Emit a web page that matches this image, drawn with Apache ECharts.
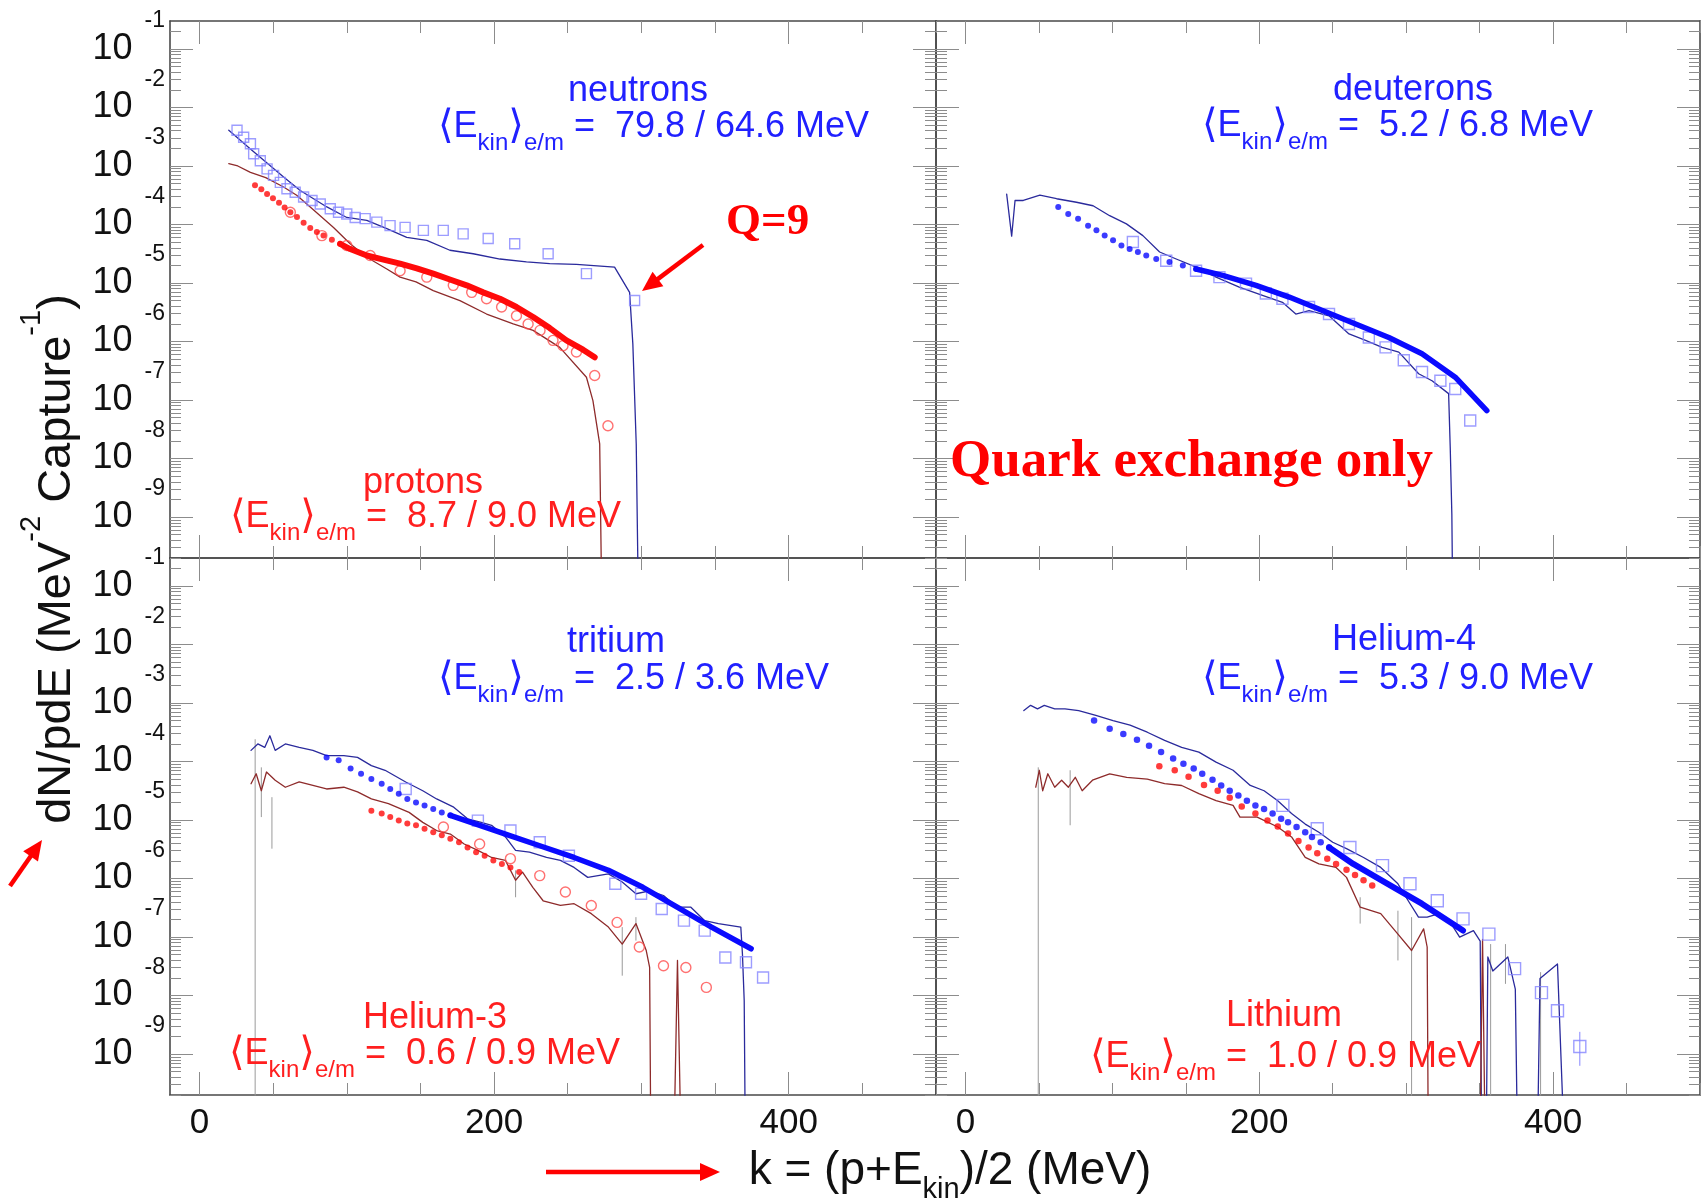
<!DOCTYPE html>
<html><head><meta charset="utf-8">
<script src="https://cdn.jsdelivr.net/npm/echarts@6/dist/echarts.min.js"></script>
<style>html,body{margin:0;padding:0;background:#fff}#c{width:1703px;height:1204px}</style>
</head><body><div id="c"></div>
<script>
// ---------------- DATA ----------------
// x = k (MeV); second number = log10(dN/pdE)
const xRange = [-20, 500];
const yRange = [2e-10, 0.3];
const xTickMajor = [0, 200, 400];
const xTickMinor = [50, 100, 150, 250, 300, 350, 450, 500];
const yExponents = [-1, -2, -3, -4, -5, -6, -7, -8, -9];

// top-left: neutrons (blue) / protons (red)
const neutronExp = [[25.5,-2.39],[30,-2.51],[34.6,-2.62],[36.8,-2.79],[41.3,-2.91],[45.9,-3.05],[50.3,-3.16],[54.9,-3.28],[59.4,-3.39],[65,-3.45],[70.7,-3.53],[76.4,-3.59],[82,-3.65],[88.8,-3.73],[94.4,-3.79],[100,-3.82],[105.7,-3.88],[112.5,-3.90],[120.4,-3.96],[129.4,-4.02],[139.6,-4.05],[152,-4.10],[165.5,-4.10],[179,-4.16],[196,-4.24],[214,-4.33],[236.7,-4.50],[262.7,-4.84],[295.4,-5.30]];
const neutronSim = [[19.9,-2.39],[34.6,-2.71],[57.1,-3.19],[68.4,-3.42],[86.5,-3.70],[100,-3.88],[113.6,-3.93],[127.2,-4.07],[140.7,-4.22],[154.3,-4.27],[170,-4.44],[185.8,-4.50],[204,-4.59],[222,-4.64],[237.8,-4.67],[255.9,-4.68],[281.8,-4.73],[292,-5.16],[294.2,-6.04],[296.5,-7.75],[298.8,-12]];
const protonExp = [[61.7,-3.79],[83.1,-4.19],[100,-4.36],[115.9,-4.53],[136.2,-4.79],[154.3,-4.90],[172.3,-5.04],[184.8,-5.16],[194.9,-5.27],[205.1,-5.41],[215.2,-5.56],[223.1,-5.70],[231.2,-5.81],[240,-5.98],[246.8,-6.07],[255.9,-6.18],[268.3,-6.58],[277.3,-7.44]];
const protonSim = [[19.9,-2.96],[26,-3.0],[34.6,-3.11],[45,-3.2],[57.1,-3.36],[66,-3.5],[75.2,-3.70],[91,-4.05],[102.3,-4.33],[113.6,-4.56],[127.2,-4.76],[136.2,-4.90],[147,-4.98],[158.7,-5.13],[176.8,-5.30],[194.9,-5.53],[213,-5.70],[226.5,-5.81],[244.6,-6.10],[262.7,-6.61],[267.1,-7.01],[271.7,-7.75],[273.9,-12]];
const protonModelDots = [[37.7,-3.33],[42,-3.40],[45.9,-3.48],[49.9,-3.55],[54,-3.63],[57.8,-3.71],[61.7,-3.79],[66.2,-3.87],[70.7,-3.97],[75.2,-4.06],[79.7,-4.13],[84.2,-4.19],[89.9,-4.26],[95.5,-4.33]];
const protonModelCurve = [[95.5,-4.33],[102.3,-4.42],[113.6,-4.53],[124.9,-4.60],[136.2,-4.67],[147.5,-4.75],[158.7,-4.84],[170,-4.94],[181.4,-5.04],[192.6,-5.16],[204,-5.27],[215.2,-5.41],[226.5,-5.58],[237.8,-5.77],[249.1,-5.98],[260.4,-6.14],[268.3,-6.27]];

// top-right: deuterons
const deuteronExp = [[114,-4.30],[136.7,-4.62],[157,-4.79],[172.9,-4.90],[191,-5.01],[204.5,-5.18],[215.8,-5.27],[233.9,-5.41],[247.5,-5.53],[261.1,-5.70],[274.6,-5.93],[286,-6.10],[298.4,-6.32],[310.8,-6.52],[323.3,-6.67],[333.4,-6.81],[343.6,-7.35]];
const deuteronSim = [[28.1,-3.48],[31.5,-4.2],[33.8,-3.59],[39.4,-3.59],[50.7,-3.50],[62.1,-3.56],[75.6,-3.62],[86.9,-3.68],[98.2,-3.85],[109.6,-3.99],[120.8,-4.19],[132.2,-4.47],[143.5,-4.59],[157,-4.73],[170.6,-4.90],[186.4,-5.07],[202.2,-5.21],[215.8,-5.33],[224.9,-5.53],[233.9,-5.47],[247.5,-5.56],[261.1,-5.87],[272.4,-5.98],[283.7,-6.10],[295,-6.18],[308.5,-6.55],[317.6,-6.67],[328.9,-6.89],[330,-7.81],[331.1,-8.95],[332.3,-12]];
const deuteronModelDots = [[63.2,-3.70],[70,-3.82],[76.7,-3.90],[83.5,-4.02],[89.2,-4.10],[94.8,-4.19],[100.5,-4.27],[106.2,-4.36],[111.8,-4.42],[117.4,-4.47],[123.1,-4.53],[129.9,-4.59],[138.9,-4.64],[148,-4.70],[157,-4.76]];
const deuteronModelCurve = [[157,-4.76],[175.1,-4.87],[197.8,-5.04],[220.4,-5.24],[243,-5.47],[265.6,-5.70],[288.2,-5.93],[310.8,-6.21],[333.4,-6.61],[354.9,-7.18]];

// bottom-left: tritium (blue) / helium-3 (red)
const tritonExp = [[140,-4.47],[189,-5.01],[211.1,-5.18],[231,-5.38],[250.8,-5.61],[282.3,-6.09],[299.8,-6.26],[313.8,-6.52],[328.9,-6.72],[343,-6.89],[357,-7.35],[371,-7.43],[382.6,-7.69]];
const tritonSim = [[35,-3.81],[39.6,-3.70],[44.3,-3.76],[47.8,-3.56],[51.4,-3.81],[58.3,-3.70],[67.7,-3.76],[77,-3.81],[86.3,-3.90],[98,-3.90],[107.3,-3.93],[116.7,-4.07],[126,-4.15],[140,-4.35],[151.6,-4.50],[161,-4.64],[172.6,-4.78],[182,-4.98],[191.3,-5.04],[198.3,-5.09],[207.7,-5.29],[214.6,-5.52],[224,-5.55],[235.6,-5.64],[245,-5.69],[254.3,-5.81],[263.6,-5.98],[277.6,-5.92],[287,-6.06],[296.3,-6.26],[305.6,-6.21],[315,-6.29],[324.3,-6.49],[333.6,-6.49],[343,-6.72],[352.3,-6.77],[367.5,-6.83],[368.6,-7.29],[369.8,-8.09],[371,-12]];
const tritonModelDots = [[86.3,-3.93],[94.5,-3.98],[102.6,-4.12],[109.7,-4.21],[116.7,-4.30],[123.7,-4.38],[129.5,-4.47],[135.3,-4.55],[141.1,-4.64],[147,-4.70],[152.8,-4.75],[158.7,-4.81],[164.5,-4.87],[170.3,-4.92]];
const tritonModelCurve = [[170.3,-4.92],[184.3,-5.04],[207.7,-5.24],[231,-5.44],[254.3,-5.64],[277.6,-5.86],[301,-6.15],[324.3,-6.49],[347.6,-6.83],[374.5,-7.20]];
const he3Exp = [[165.6,-5.12],[190.2,-5.41],[211.1,-5.66],[231,-5.95],[248.4,-6.23],[266,-6.46],[283.5,-6.75],[298.6,-7.17],[315,-7.49],[330.2,-7.52],[344.1,-7.86]];
const he3Sim = [[35,-4.38],[38.5,-4.21],[42,-4.50],[45.5,-4.18],[51.4,-4.32],[58.3,-4.44],[67.7,-4.35],[77,-4.41],[86.3,-4.47],[98,-4.44],[107.3,-4.52],[116.7,-4.64],[128.3,-4.72],[142.3,-4.87],[151.6,-5.04],[161,-5.18],[170.3,-5.24],[179.7,-5.41],[189,-5.52],[198.3,-5.64],[207.7,-5.69],[214.6,-6.03],[219.3,-5.89],[226.3,-6.15],[233.3,-6.38],[245,-6.46],[254.3,-6.43],[266,-6.60],[277.6,-6.83],[287,-7.12],[296.3,-6.77],[303.3,-7.23],[305.6,-7.52],[306.8,-12],[321,-12],[324.5,-7.40],[328,-12]];
const he3ModelDots = [[116.7,-4.84],[123.7,-4.89],[129.5,-4.95],[135.3,-5.01],[141.1,-5.06],[147,-5.09],[152.8,-5.15],[158.7,-5.21],[164.5,-5.26],[170.3,-5.32],[176.2,-5.38],[182,-5.47],[187.8,-5.55],[193.6,-5.61],[199.5,-5.69],[205.3,-5.75],[211.1,-5.81],[217,-5.89]];
const errBottomLeft = [[37.8,-3.62,-12],[42,-4.10,-4.95],[49.2,-4.61,-5.49],[214.6,-5.86,-6.32],[287,-6.83,-7.66],[296.3,-6.66,-7.06]];

// bottom-right: helium-4 (blue) / lithium (red)
const he4Exp = [[216.1,-4.75],[239.5,-5.15],[261.7,-5.47],[283.9,-5.78],[302.6,-6.09],[321.2,-6.38],[338.7,-6.69],[356.3,-6.95],[373.8,-7.54],[392.1,-7.95],[403,-8.26],[418.2,-8.87]];
const he4ExpErr = [[418.2,-8.62,-9.2]];
const he4Sim = [[39.8,-3.13],[44.4,-3.04],[49.1,-3.10],[53.7,-3.04],[60.8,-3.10],[67.8,-3.10],[77.1,-3.13],[88.8,-3.21],[100.5,-3.30],[112.1,-3.38],[123.8,-3.50],[135.6,-3.64],[147.2,-3.76],[158.9,-3.84],[170.6,-4.01],[182.2,-4.15],[193.9,-4.41],[203.3,-4.50],[212.6,-4.67],[222,-4.89],[231.3,-5.07],[240.6,-5.21],[250,-5.38],[259.4,-5.49],[271,-5.64],[282.7,-5.81],[294.4,-6.09],[301.4,-6.38],[308.4,-6.66],[314.3,-6.66],[322.4,-6.60],[330.6,-6.77],[336.4,-7.00],[345.8,-6.89],[350.4,-7.07],[351.8,-12],[354,-12],[355.6,-7.34],[359,-7.58],[369.2,-7.34],[374.3,-7.89],[376.6,-12],[388.5,-12],[391.1,-7.71],[403,-7.46],[409.8,-12]];
const he4ModelDots = [[87.6,-3.30],[98.2,-3.44],[107.5,-3.53],[116.8,-3.63],[125,-3.73],[133.2,-3.84],[141.4,-3.95],[148.4,-4.04],[155.4,-4.12],[161.2,-4.21],[168.2,-4.31],[174.1,-4.41],[179.9,-4.50],[185.8,-4.58],[191.6,-4.67],[197.4,-4.75],[203.3,-4.81],[209.1,-4.89],[214.9,-4.98],[219.6,-5.04],[225.4,-5.12],[231.3,-5.21],[235.9,-5.29],[241.8,-5.38],[247.6,-5.47]];
const he4ModelCurve = [[247.6,-5.47],[264,-5.75],[287.4,-6.09],[310.7,-6.43],[338.7,-6.89]];
const liSim = [[47.9,-4.44],[50.3,-4.15],[52.6,-4.50],[56.1,-4.21],[60.8,-4.44],[65.5,-4.32],[70.1,-4.44],[74.8,-4.27],[79.5,-4.50],[86.5,-4.32],[98.2,-4.21],[109.8,-4.27],[123.8,-4.30],[135.6,-4.38],[147.2,-4.41],[158.9,-4.55],[170.6,-4.67],[182.2,-4.75],[186.9,-4.95],[198.6,-4.95],[212.6,-5.12],[222,-5.29],[231.3,-5.64],[240.6,-5.75],[252.3,-5.81],[259.4,-5.98],[268.7,-6.49],[282.7,-6.60],[294.4,-6.95],[303.7,-7.23],[311.9,-6.86],[314.3,-7.17],[315.4,-12],[349.5,-12],[352,-7.04],[354.5,-12]];
const liModelDots = [[132,-4.08],[142.5,-4.15],[151.9,-4.26],[162.4,-4.40],[171.7,-4.50],[179.9,-4.62],[188.1,-4.77],[197.4,-4.89],[205.6,-5.01],[212.6,-5.11],[219.6,-5.23],[226.7,-5.36],[233.6,-5.47],[239.5,-5.57],[246.3,-5.66],[252.3,-5.75],[259.4,-5.85],[265.2,-5.94],[271,-6.03],[276.9,-6.12]];
const errBottomRight = [[49.6,-4.10,-12],[71.3,-4.15,-5.09],[268.7,-6.32,-6.77],[294.4,-6.55,-7.40],[303.7,-6.66,-12],[357.5,-7.12,-12],[367.6,-7.12,-7.80],[391.5,-7.6,-12]];

// texts
const particleLabels = [
  {name:'neutrons',  vals:'79.8 / 64.6', color:'blue'},
  {name:'protons',   vals:'8.7 / 9.0',   color:'red'},
  {name:'deuterons', vals:'5.2 / 6.8',   color:'blue'},
  {name:'tritium',   vals:'2.5 / 3.6',   color:'blue'},
  {name:'Helium-3',  vals:'0.6 / 0.9',   color:'red'},
  {name:'Helium-4',  vals:'5.3 / 9.0',   color:'blue'},
  {name:'Lithium',   vals:'1.0 / 0.9',   color:'red'}
];

// ---------------- STYLE / LAYOUT ----------------
const F = '"Liberation Sans", Arial, Helvetica, "DejaVu Sans", sans-serif';
const SERIF = '"Liberation Serif", "Times New Roman", serif';
const FRAME = '#4a4a4a', TICK = '#8c8c8c', TXT = '#111';
const BLUE_T = '#2121ff', RED_T = '#ff1f1f';
const BLUE_LINE = '#2a2a9c', RED_LINE = '#8e2b2b', SQ = '#8585ff', CIRC = '#ff4d4d', BDOT = '#0a0aff', RDOT = '#ff0a0a', ERR = '#9a9a9a';

const panelBoxes = [[170,21,766,537],[936,21,764,537],[170,558,766,537],[936,558,764,537]];
const yMajorVals = yExponents.map(e => Math.pow(10, e));
const yMinorVals = [];
for (let n = -10; n <= -1; n++) for (let m = 2; m <= 9; m++) { const v = m * Math.pow(10, n); if (v >= yRange[0] && v <= yRange[1]) yMinorVals.push(v); }

const grids = [], xAxes = [], yAxes = [];
panelBoxes.forEach((b, p) => {
  for (let m = 0; m < 2; m++) {
    const g = 2 * p + m, major = m === 0;
    grids.push({left:b[0], top:b[1], width:b[2], height:b[3], containLabel:false, outerBoundsMode:'none', show:false});
    ['bottom','top'].forEach(pos => {
      const showLab = major && pos === 'bottom' && p >= 2;
      xAxes.push({type:'value', gridIndex:g, position:pos, min:xRange[0], max:xRange[1], silent:true,
        splitLine:{show:false}, minorTick:{show:false},
        axisLine:{show:major, onZero:false, lineStyle:{color:FRAME, width:1.6}},
        axisTick:{show:true, inside:true, length: major ? 23 : 12, customValues: major ? xTickMajor : xTickMinor, lineStyle:{color:TICK, width:1}},
        axisLabel: showLab ? {show:true, customValues:xTickMajor, fontSize:35, fontFamily:F, color:TXT, margin:11} : {show:false}
      });
    });
    ['left','right'].forEach(pos => {
      const showLab = major && pos === 'left' && p % 2 === 0;
      yAxes.push({type:'log', logBase:10, gridIndex:g, position:pos, min:yRange[0], max:yRange[1], silent:true,
        splitLine:{show:false}, minorTick:{show:false},
        axisLine:{show:major, onZero:false, lineStyle:{color:FRAME, width:1.6}},
        axisTick:{show:true, inside:true, length: major ? 23 : 11, customValues: major ? yMajorVals : yMinorVals, lineStyle:{color:TICK, width:1}},
        axisLabel: showLab ? {show:true, customValues:yMajorVals, margin:5,
          formatter: v => '{b|10}{e|' + Math.round(Math.log10(v)) + '}',
          rich:{ b:{fontSize:36, fontFamily:F, color:TXT, verticalAlign:'middle'},
                 e:{fontSize:23, fontFamily:F, color:TXT, verticalAlign:'middle', padding:[0,0,56,12]} } } : {show:false}
      });
    });
  }
});

const series = [];
const toXY = a => a.map(p => [p[0], Math.pow(10, p[1])]);
const ax = p => ({xAxisIndex:4*p, yAxisIndex:4*p});
function addLine(p, arr, color, width, z) {
  series.push(Object.assign({type:'line', data:toXY(arr), symbol:'none', showSymbol:false, animation:false, silent:true, z:z||2,
    lineStyle:{color, width, cap:'round', join:'round'}}, ax(p)));
}
function addScatter(p, arr, symbol, size, fill, stroke, bw, z) {
  series.push(Object.assign({type:'scatter', data:toXY(arr), symbol, symbolSize:size, animation:false, silent:true, z:z||3,
    itemStyle:{color:fill, borderColor:stroke, borderWidth:bw}}, ax(p)));
}
function addErr(p, arr, color) {
  const d = [];
  arr.forEach(e => { d.push([e[0], Math.pow(10, e[1])], [e[0], Math.pow(10, e[2])], [e[0], '-']); });
  series.push(Object.assign({type:'line', data:d, symbol:'none', showSymbol:false, connectNulls:false, animation:false, silent:true, z:1,
    lineStyle:{color, width:1}}, ax(p)));
}

// panel 0
addLine(0, neutronSim, BLUE_LINE, 1.3);
addLine(0, protonSim, RED_LINE, 1.3);
addScatter(0, neutronExp, 'rect', 10, 'rgba(0,0,0,0)', SQ, 1.4);
addScatter(0, protonExp, 'circle', 10, 'rgba(0,0,0,0)', CIRC, 1.4);
addScatter(0, protonModelDots, 'circle', 6, RDOT, RDOT, 0, 4);
addLine(0, protonModelCurve, RDOT, 6, 4);
// panel 1
addLine(1, deuteronSim, BLUE_LINE, 1.3);
addScatter(1, deuteronExp, 'rect', 11, 'rgba(0,0,0,0)', SQ, 1.4);
addScatter(1, deuteronModelDots, 'circle', 6, BDOT, BDOT, 0, 4);
addLine(1, deuteronModelCurve, BDOT, 5.5, 4);
// panel 2
addErr(2, errBottomLeft, ERR);
addLine(2, tritonSim, BLUE_LINE, 1.3);
addLine(2, he3Sim, RED_LINE, 1.3);
addScatter(2, tritonExp, 'rect', 11, 'rgba(0,0,0,0)', SQ, 1.4);
addScatter(2, he3Exp, 'circle', 10, 'rgba(0,0,0,0)', CIRC, 1.4);
addScatter(2, tritonModelDots, 'circle', 6, BDOT, BDOT, 0, 4);
addLine(2, tritonModelCurve, BDOT, 5.5, 4);
addScatter(2, he3ModelDots, 'circle', 6, RDOT, RDOT, 0, 4);
// panel 3
addErr(3, errBottomRight, ERR);
addErr(3, he4ExpErr, SQ);
addLine(3, he4Sim, BLUE_LINE, 1.3);
addLine(3, liSim, RED_LINE, 1.3);
addScatter(3, he4Exp, 'rect', 12, 'rgba(0,0,0,0)', SQ, 1.4);
addScatter(3, he4ModelDots, 'circle', 6.5, BDOT, BDOT, 0, 4);
addLine(3, he4ModelCurve, BDOT, 6, 4);
addScatter(3, liModelDots, 'circle', 6.5, RDOT, RDOT, 0, 4);

// ---------------- TEXT / ANNOTATIONS ----------------
const labelPos = [
  {nx:638, ny:91,  ex:438,  ey:109},
  {nx:423, ny:483, ex:230,  ey:499},
  {nx:1413,ny:90,  ex:1202, ey:108},
  {nx:616, ny:642, ex:438,  ey:661},
  {nx:435, ny:1018,ex:229,  ey:1036},
  {nx:1404,ny:640, ex:1202, ey:661},
  {nx:1284,ny:1016,ex:1090, ey:1039}
];
const graphics = [];
function txt(x, y, text, opts) {
  graphics.push(Object.assign({type:'text', x, y, silent:true, z:100,
    style:Object.assign({text, fill:TXT, font:'34px ' + F, fontFamily:F, fontSize:34,
      align:'left', verticalAlign:'top', textAlign:'left', textVerticalAlign:'top'}, opts.style || {})}, opts.el || {}));
}
particleLabels.forEach((L, i) => {
  const c = L.color === 'blue' ? BLUE_T : RED_T, P = labelPos[i];
  txt(P.nx, P.ny, L.name, {style:{fill:c, fontSize:36, font:'36px ' + F, align:'center', textAlign:'center', verticalAlign:'middle', textVerticalAlign:'middle'}});
  const rich = {
    n:{fontSize:36, fontFamily:F, fill:c, color:c, verticalAlign:'top'},
    k:{fontSize:40, fontFamily:F, fill:c, color:c, verticalAlign:'top', padding:[-2,0,0,0]},
    s:{fontSize:24, fontFamily:F, fill:c, color:c, verticalAlign:'top', padding:[22,0,0,0]}
  };
  txt(P.ex, P.ey, '{k|\u27E8}{n|E}{s|kin}{k|\u27E9}{s|e/m}{n| =  ' + L.vals + ' MeV}', {style:{fill:c, rich}});
});
txt(726, 222, 'Q=9', {style:{fill:'#ff0000', fontSize:45, fontWeight:'bold', fontFamily:SERIF, font:'bold 45px ' + SERIF, verticalAlign:'middle', textVerticalAlign:'middle'}});
txt(950, 462, 'Quark exchange only', {style:{fill:'#ff0000', fontSize:53, fontWeight:'bold', fontFamily:SERIF, font:'bold 53px ' + SERIF, verticalAlign:'middle', textVerticalAlign:'middle'}});

// axis titles
txt(950, 1148, '{n|k = (p+E}{s|kin}{n|)/2 (MeV)}', {style:{align:'center', textAlign:'center', rich:{
  n:{fontSize:46, fontFamily:F, fill:TXT, color:TXT, verticalAlign:'top'},
  s:{fontSize:29, fontFamily:F, fill:TXT, color:TXT, verticalAlign:'top', padding:[27,0,0,0]}}}});
txt(49, 559, '{n|dN/pdE (MeV}{s|-2}{n| Capture}{s|-1}{n|)}', {el:{rotation:Math.PI/2}, style:{align:'center', textAlign:'center', verticalAlign:'middle', textVerticalAlign:'middle', rich:{
  n:{fontSize:47, fontFamily:F, fill:TXT, color:TXT, verticalAlign:'top', padding:[16,0,0,0]},
  s:{fontSize:29, fontFamily:F, fill:TXT, color:TXT, verticalAlign:'top'}}}});

// arrows
function arrow(x1, y1, x2, y2) {
  const dx = x2 - x1, dy = y2 - y1, L = Math.hypot(dx, dy), ux = dx / L, uy = dy / L, px = -uy, py = ux;
  const hl = 20, hw = 9;
  const bx = x2 - ux * hl, by = y2 - uy * hl;
  graphics.push({type:'line', silent:true, z:100, shape:{x1, y1, x2:bx + ux * 2, y2:by + uy * 2}, style:{stroke:'#ff0000', lineWidth:4.5}});
  graphics.push({type:'polygon', silent:true, z:100, shape:{points:[[x2, y2], [bx + px * hw, by + py * hw], [bx - px * hw, by - py * hw]]}, style:{fill:'#ff0000'}});
}
arrow(703, 245, 642, 291);
arrow(10, 886, 42, 840);
arrow(546, 1172, 720, 1172);

const chart = echarts.init(document.getElementById('c'), null, {renderer:'canvas'});
chart.setOption({
  animation:false, backgroundColor:'#ffffff',
  grid:grids, xAxis:xAxes, yAxis:yAxes, series, graphic:{elements:graphics}
});
</script></body></html>
